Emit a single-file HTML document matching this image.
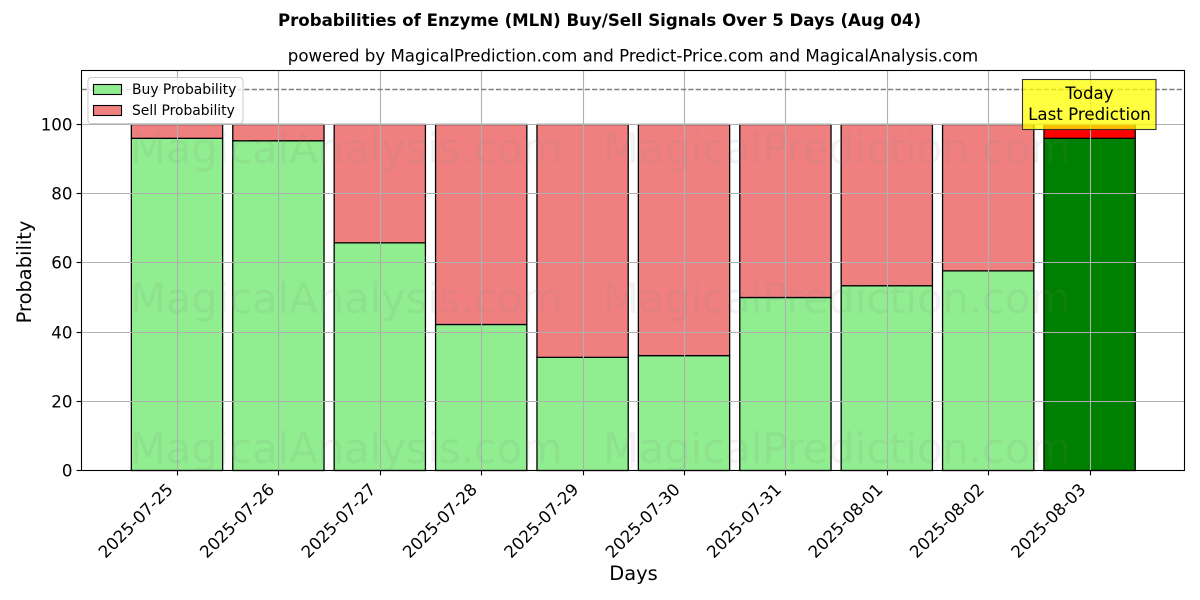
<!DOCTYPE html>
<html>
<head>
<meta charset="utf-8">
<style>
html,body{margin:0;padding:0;background:#fff;width:1200px;height:600px;overflow:hidden}
svg{display:block;font-family:"DejaVu Sans","Liberation Sans",sans-serif}
</style>
</head>
<body>
<svg id="chart" width="1200" height="600" viewBox="0 0 1200 600" xmlns="http://www.w3.org/2000/svg">
  <rect width="1200" height="600" fill="#fff"/>
  <text x="599.5" y="26" font-size="16.6" font-weight="bold" text-anchor="middle">Probabilities of Enzyme (MLN) Buy/Sell Signals Over 5 Days (Aug 04)</text>
  <text x="633" y="61.5" font-size="16.62" text-anchor="middle">powered by MagicalPrediction.com and Predict-Price.com and MagicalAnalysis.com</text>
  <g id="bars"></g>
  <g id="grid"></g>
  <line id="refline" stroke="#808080" stroke-width="1.4" stroke-dasharray="5.2,2.2"/>
  <g id="watermarks"></g>
  <rect x="81.5" y="70.5" width="1103" height="400" fill="none" stroke="#000" stroke-width="1.1"/>
  <g id="ticks"></g>
  <text transform="translate(31,272) rotate(-90)" font-size="19.44" text-anchor="middle">Probability</text>
  <text x="633.5" y="580" font-size="19.44" text-anchor="middle">Days</text>
  <g>
    <rect x="88" y="77.5" width="155" height="46" rx="3" fill="#fff" fill-opacity="0.8" stroke="#ccc" stroke-width="1"/>
    <rect x="93.5" y="84.5" width="28" height="10" fill="#90ee90" stroke="#000" stroke-width="1.1"/>
    <text x="132" y="94" font-size="13.89">Buy Probability</text>
    <rect x="93.5" y="105.5" width="28" height="10" fill="#f08080" stroke="#000" stroke-width="1.1"/>
    <text x="132" y="115" font-size="13.89">Sell Probability</text>
  </g>
  <g>
    <rect x="1022.5" y="79.5" width="133.5" height="50" fill="#ffff00" fill-opacity="0.75" stroke="#333" stroke-width="1.1"/>
    <text x="1089.5" y="99" font-size="16.67" text-anchor="middle">Today</text>
    <text x="1089.5" y="120" font-size="16.67" text-anchor="middle">Last Prediction</text>
  </g>
</svg>
<script>
const categories = ["2025-07-25","2025-07-26","2025-07-27","2025-07-28","2025-07-29","2025-07-30","2025-07-31","2025-08-01","2025-08-02","2025-08-03"];
const buyValues = [96.0,95.3,65.8,42.2,32.7,33.2,50.0,53.4,57.7,96.0];
const sellValues = [4.0,4.7,34.2,57.8,67.3,66.8,50.0,46.6,42.3,4.0];
const yTicks = [0,20,40,60,80,100];
const referenceLevel = 110;
const watermarkLabels = ["MagicalAnalysis.com","MagicalPrediction.com"];

const NS = 'http://www.w3.org/2000/svg';
const plot = {left:81.5,right:1184.5,top:70.5,bottom:470.5};
const xScale = i => 177 + i * ((1089.6 - 177) / (categories.length - 1));
const yScale = v => 470.5 - v * 3.46;
const barWidth = 0.9 * ((1089.6 - 177) / (categories.length - 1));

function mk(tag, attrs, parent, text){
  const el = document.createElementNS(NS, tag);
  for (const k in attrs) el.setAttribute(k, attrs[k]);
  if (text !== undefined) el.textContent = text;
  parent.appendChild(el);
  return el;
}

const barsG = document.getElementById('bars');
const gridG = document.getElementById('grid');
const ticksG = document.getElementById('ticks');
const wmG = document.getElementById('watermarks');

categories.forEach((c, i) => {
  const last = i === categories.length - 1;
  const x = xScale(i) - barWidth / 2;
  const buyTop = yScale(buyValues[i]);
  const sellTop = yScale(buyValues[i] + sellValues[i]);
  const buy = mk('rect', {x:x, y:buyTop, width:barWidth, height:yScale(0) - buyTop, fill:last ? '#008000' : '#90ee90', stroke:'#000', 'stroke-width':1.3}, barsG);
  
  
  const sell = mk('rect', {x:x, y:sellTop, width:barWidth, height:buyTop - sellTop, fill:last ? '#ff0000' : '#f08080', stroke:'#000', 'stroke-width':1.3}, barsG);
  
  

  const gx = Math.round(xScale(i)) + 0.5;
  const gl = mk('line', {x1:gx, x2:gx, y1:plot.top, y2:plot.bottom, stroke:'#b0b0b0', 'stroke-width':1.1}, gridG);
  
  
  const tk = mk('line', {x1:gx, x2:gx, y1:plot.bottom, y2:plot.bottom + 4.9, stroke:'#000', 'stroke-width':1.1}, ticksG);
  
  
  const lx = xScale(i) - 11.5, ly = 482;
  const lb = mk('text', {x:lx, y:ly, 'font-size':16.67, 'text-anchor':'end', 'dominant-baseline':'hanging', transform:'rotate(-45 ' + lx + ' ' + ly + ')'}, ticksG, c);
  
  
});

yTicks.forEach(v => {
  const y = Math.floor(yScale(v)) + 0.5;
  const gl = mk('line', {x1:plot.left, x2:plot.right, y1:y, y2:y, stroke:'#b0b0b0', 'stroke-width':1.1}, gridG);
  
  
  const tk = mk('line', {x1:plot.left - 4.9, x2:plot.left, y1:y, y2:y, stroke:'#000', 'stroke-width':1.1}, ticksG);
  
  
  const lb = mk('text', {x:72.5, y:y + 6, 'font-size':16.67, 'text-anchor':'end'}, ticksG, String(v));
  
  
});

const ref = document.getElementById('refline');
ref.setAttribute('x1', plot.left);
ref.setAttribute('x2', plot.right);
ref.setAttribute('y1', Math.floor(yScale(referenceLevel)) + 0.5);
ref.setAttribute('y2', Math.floor(yScale(referenceLevel)) + 0.5);

[163, 313, 463].forEach((y, r) => {
  [130, 603].forEach((x, k) => {
    const w = mk('text', {x:x, y:y, 'font-size':41.6, fill:'#808080', 'fill-opacity':0.1}, wmG, watermarkLabels[k]);
    
    
  });
});
</script>
</body>
</html>
